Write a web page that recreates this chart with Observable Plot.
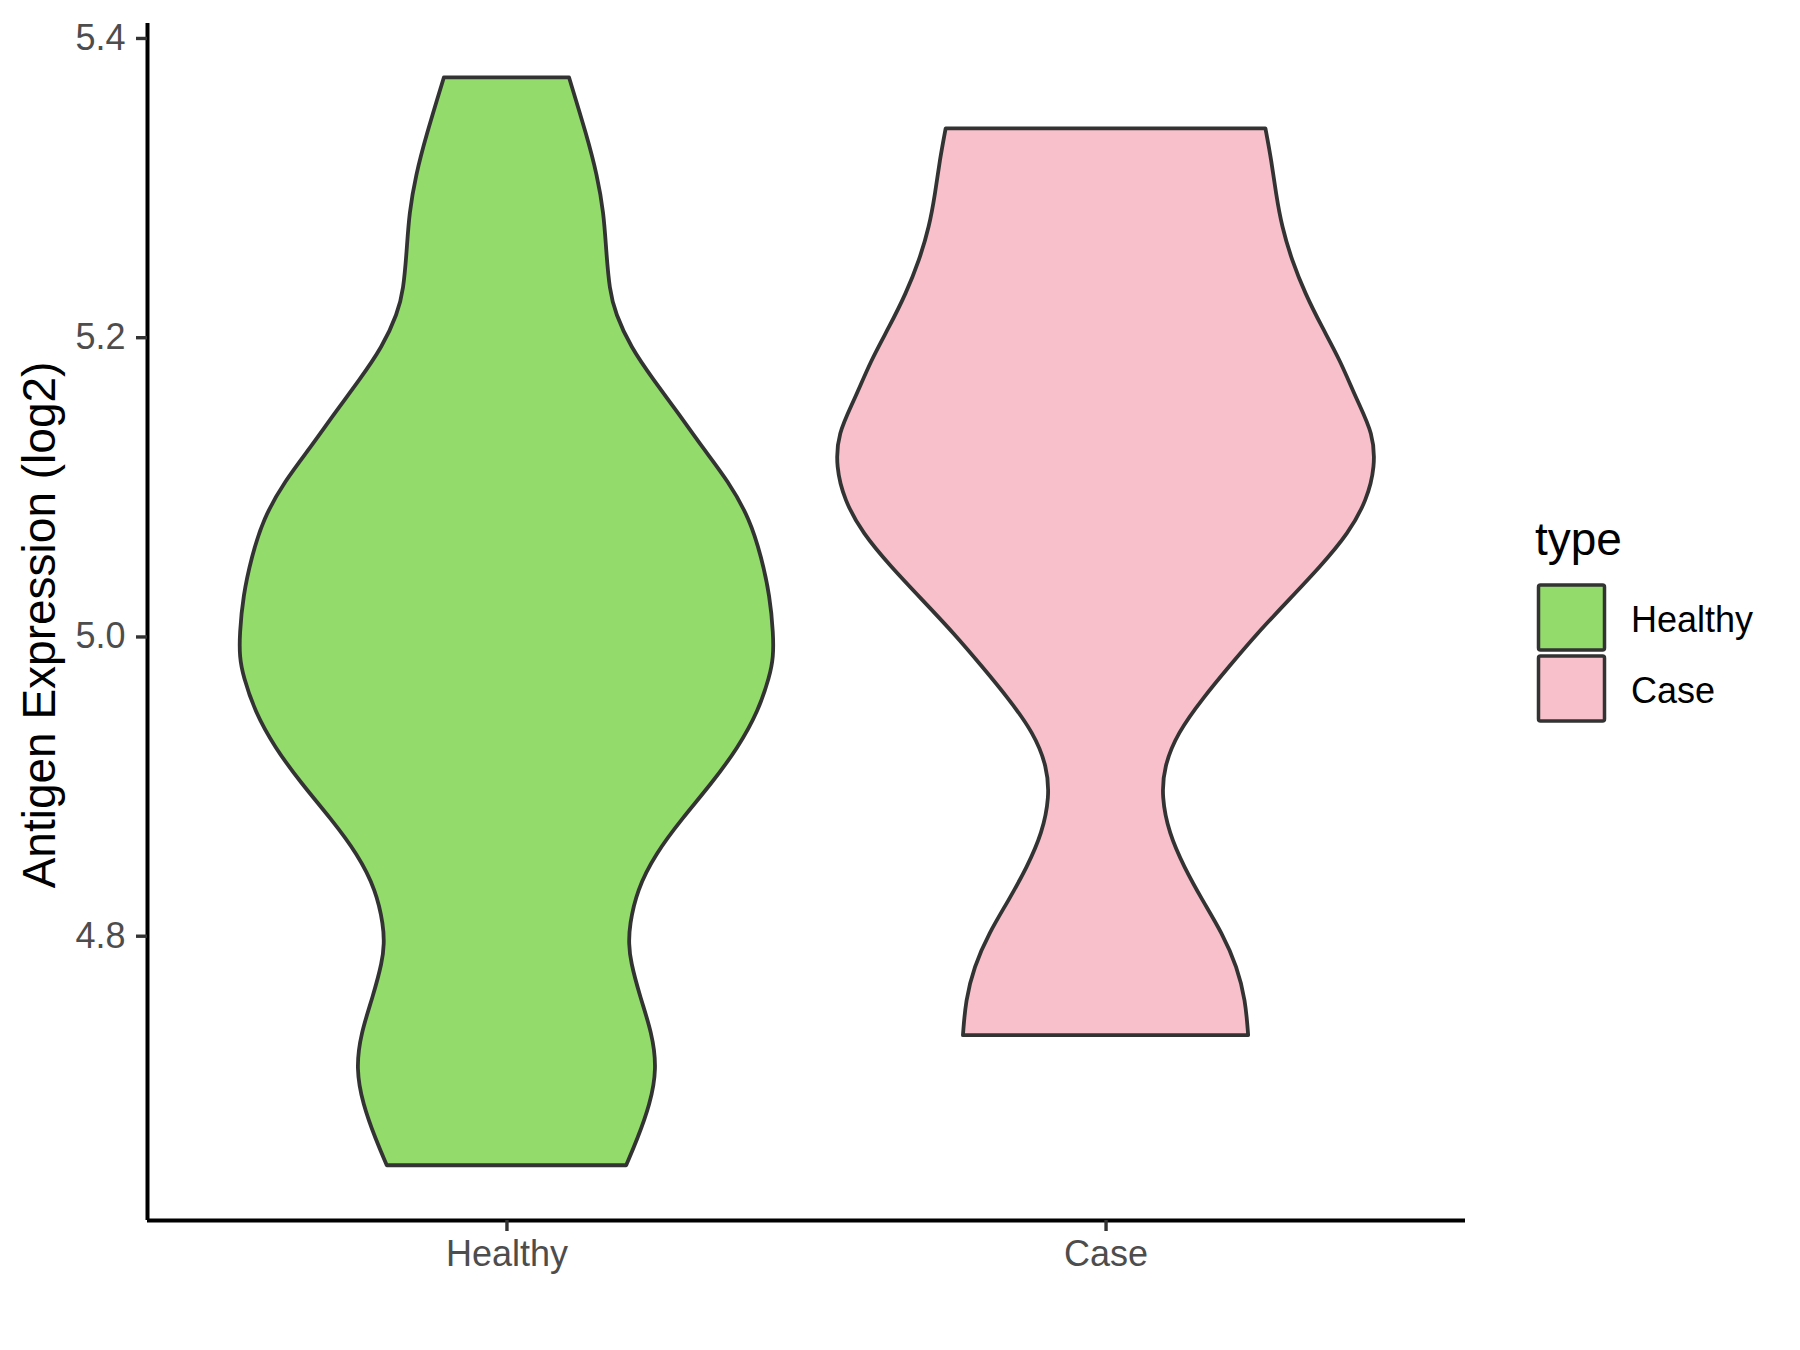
<!DOCTYPE html>
<html>
<head>
<meta charset="utf-8">
<script src="https://cdn.jsdelivr.net/npm/d3@7"></script>
<script src="https://cdn.jsdelivr.net/npm/@observablehq/plot@0.6"></script>
<style>
  body { margin: 0; background: white; }
  #wrap { position: relative; width: 1800px; height: 1350px; background: white; font-family: "Liberation Sans", Arial, sans-serif; }
  #legend { position: absolute; left: 0; top: 0; pointer-events: none; }
</style>
</head>
<body>
<div id="wrap"></div>
<script>
// ---- data ----
const categories = ["Healthy", "Case"];
const colors = ["#93DB6B", "#F7C0CB"];
const yTicks = [4.8, 5.0, 5.2, 5.4];
const yLabel = "Antigen Expression (log2)";
const legendTitle = "type";

// violin outlines: expression value and relative density (1 = widest)
const healthyY = [5.3737, 5.3341, 5.3085, 5.2830, 5.2576, 5.2318, 5.2159, 5.1936, 5.1713, 5.1491,
  5.1268, 5.1038, 5.0784, 5.0527, 5.0271, 5.0016, 4.9862, 4.9737, 4.9501, 4.9260,
  4.9020, 4.8782, 4.8545, 4.8305, 4.8066, 4.7946, 4.7830, 4.7589, 4.7349, 4.7111,
  4.6874, 4.6634, 4.6466];
const healthyDensity = [0.232, 0.299, 0.336, 0.361, 0.370, 0.382, 0.404, 0.460, 0.546, 0.638,
  0.725, 0.823, 0.903, 0.946, 0.977, 0.990, 0.990, 0.977, 0.934, 0.860,
  0.762, 0.651, 0.552, 0.484, 0.456, 0.454, 0.460, 0.496, 0.540, 0.558,
  0.533, 0.484, 0.444];
const caseY = [5.3396, 5.3184, 5.2961, 5.2738, 5.2515, 5.2293, 5.2070, 5.1847, 5.1580, 5.1357,
  5.1134, 5.0911, 5.0689, 5.0466, 5.0243, 5.0020, 4.9797, 4.9597, 4.9354, 4.9129,
  4.8928, 4.8686, 4.8460, 4.8238, 4.8017, 4.7792, 4.7569, 4.7335];
const caseDensity = [0.593, 0.615, 0.632, 0.654, 0.691, 0.740, 0.802, 0.870, 0.932, 0.993,
  1.000, 0.969, 0.901, 0.796, 0.679, 0.562, 0.457, 0.365, 0.266, 0.217,
  0.208, 0.235, 0.291, 0.359, 0.433, 0.488, 0.519, 0.529];

// ---- build table ----
const series = [[healthyY, healthyDensity], [caseY, caseDensity]];
const halfMax = 0.45;
const rows = [];
categories.forEach((c, i) => {
  const [ys, ds] = series[i];
  ys.forEach((y, j) => rows.push({type: c, y, x1: i + 1 - halfMax * ds[j], x2: i + 1 + halfMax * ds[j]}));
});

const yDomain = [4.610, 5.410];
const xDomain = [0.4, 2.6];

const plot = Plot.plot({
  width: 1800,
  height: 1350,
  marginLeft: 147,
  marginRight: 335,
  marginTop: 23,
  marginBottom: 130,
  style: {fontFamily: "'Liberation Sans', Arial, sans-serif", background: "white", overflow: "visible"},
  x: {domain: xDomain},
  y: {domain: yDomain},
  color: {domain: categories, range: colors},
  marks: [
    Plot.areaX(rows, {y: "y", x1: "x1", x2: "x2", z: "type", fill: "type", stroke: "#333333", strokeWidth: 3.8, strokeLinejoin: "round", curve: "basis"}),
    Plot.ruleX([xDomain[0]], {stroke: "black", strokeWidth: 4}),
    Plot.ruleY([yDomain[0]], {stroke: "black", strokeWidth: 4}),
    Plot.axisY(yTicks, {tickFormat: d3.format(".1f"), tickSize: 11, tickPadding: 11, fontSize: 36, fill: "#4D4D4D", stroke: "#333333", strokeWidth: 3.4, label: null}),
    Plot.axisX([1, 2], {tickFormat: i => categories[i - 1], tickSize: 11, tickPadding: 9, fontSize: 36, fill: "#4D4D4D", stroke: "#333333", strokeWidth: 3.4, label: null}),
    Plot.text([yLabel], {text: d => d, frameAnchor: "left", textAnchor: "middle", dx: -107, dy: 3, rotate: -90, fontSize: 46, fill: "black"})
  ]
});
const wrap = document.getElementById("wrap");
wrap.appendChild(plot);

// ---- legend ----
const leg = d3.create("svg").attr("id", "legend").attr("width", 1800).attr("height", 1350)
  .style("font-family", "'Liberation Sans', Arial, sans-serif");
leg.append("text").attr("x", 1535).attr("y", 555).attr("font-size", 46).attr("fill", "black").text(legendTitle);
categories.forEach((c, i) => {
  const top = 585 + i * 71;
  leg.append("rect").attr("x", 1538.5).attr("y", top).attr("width", 66).attr("height", 65)
    .attr("rx", 2).attr("fill", colors[i]).attr("stroke", "#333333").attr("stroke-width", 3.5);
  leg.append("text").attr("x", 1631).attr("y", top + 47).attr("font-size", 36).attr("fill", "black").text(c);
});
wrap.appendChild(leg.node());
</script>
</body>
</html>
